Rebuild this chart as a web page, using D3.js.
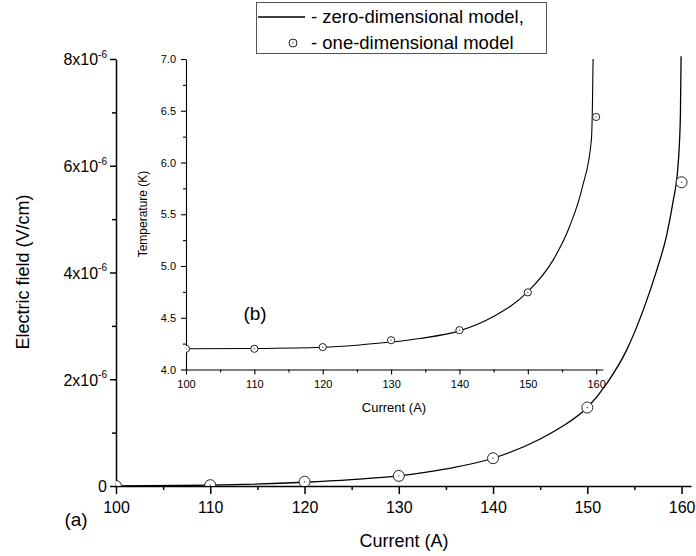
<!DOCTYPE html>
<html>
<head>
<meta charset="utf-8">
<script src="https://cdn.jsdelivr.net/npm/d3@7"></script>
<style>
body { margin: 0; background: #fff; }
svg { display: block; font-family: "Liberation Sans", Arial, sans-serif; }
</style>
</head>
<body>
<div id="chart"></div>
<script>
// one-dimensional model (circles)
var currents = [100, 110, 120, 130, 140, 150, 160];
var fieldPoints = [0, 0.015e-6, 0.08e-6, 0.19e-6, 0.52e-6, 1.47e-6, 5.69e-6];
var tempPoints = [4.2, 4.2, 4.216, 4.283, 4.38, 4.745, 6.44];

// zero-dimensional model (line)
var fieldCurveI = [100, 110, 120, 125, 130, 135, 140, 145, 147.1, 150, 152.06, 154.18, 155.94, 157.36, 158.42, 159.12, 159.55, 159.75, 159.88, 159.95];
var fieldCurveE = [0, 0.015e-6, 0.07e-6, 0.12e-6, 0.19e-6, 0.32e-6, 0.52e-6, 0.88e-6, 1.09e-6, 1.47e-6, 1.92e-6, 2.55e-6, 3.3e-6, 4.04e-6, 4.7e-6, 5.35e-6, 5.85e-6, 6.35e-6, 7.0e-6, 8.05e-6];
var tempCurveI = [100, 110, 120, 125, 130, 134.2, 140, 144.9, 149.9, 153.7, 156.1, 158, 159.3, 159.45, 159.55];
var tempCurveT = [4.2, 4.203, 4.215, 4.235, 4.265, 4.3, 4.373, 4.509, 4.745, 5.057, 5.379, 5.766, 6.218, 6.54, 7.0];

// ticks
var xMajor = [100, 110, 120, 130, 140, 150, 160];
var xMinor = [105, 115, 125, 135, 145, 155];
var yMajor = [0, 2e-6, 4e-6, 6e-6, 8e-6];
var yMinor = [1e-6, 3e-6, 5e-6, 7e-6];
var yLabels = ["0", "2x10^-6", "4x10^-6", "6x10^-6", "8x10^-6"];
var tMajor = [4.0, 4.5, 5.0, 5.5, 6.0, 6.5, 7.0];
var tMinor = [4.25, 4.75, 5.25, 5.75, 6.25, 6.75];

var legendText = ["- zero-dimensional model,", "- one-dimensional model"];

(function () {
    var W = 696, H = 556;
    var svg = d3.select("#chart").append("svg")
        .attr("width", W)
        .attr("height", H);

    // main scales
    var x = d3.scaleLinear().domain([100, 161]).range([116, 691]);
    var y = d3.scaleLinear().domain([0, 8e-6]).range([486, 59]);

    // inset scales
    var xi = d3.scaleLinear().domain([100, 161]).range([186, 603]);
    var yi = d3.scaleLinear().domain([4, 7]).range([369.5, 59]);

    var defs = svg.append("defs");
    defs.append("clipPath").attr("id", "clipMain").append("rect")
        .attr("x", 116).attr("y", 54).attr("width", 575).attr("height", 432);
    defs.append("clipPath").attr("id", "clipInset").append("rect")
        .attr("x", 186).attr("y", 57).attr("width", 417).attr("height", 312.5);

    function styleAxis(g, w) {
        g.selectAll("path.domain").attr("stroke", "#000").attr("stroke-width", w);
        g.selectAll(".tick line").attr("stroke", "#000").attr("stroke-width", w);
    }

    // ---- main axes ----
    var gx = svg.append("g").attr("transform", "translate(0,486)")
        .call(d3.axisBottom(x).tickValues(xMajor).tickSize(8).tickSizeOuter(0).tickPadding(8).tickFormat(d3.format("d")));
    gx.selectAll("text").attr("font-size", 16).attr("fill", "#000").attr("font-family", null);
    styleAxis(gx, 1.5);
    var gxm = svg.append("g").attr("transform", "translate(0,486)")
        .call(d3.axisBottom(x).tickValues(xMinor).tickSize(4).tickFormat(""));
    gxm.select("path.domain").remove();
    styleAxis(gxm, 1.5);

    var gy = svg.append("g").attr("transform", "translate(116,0)")
        .call(d3.axisLeft(y).tickValues(yMajor).tickSize(6).tickSizeOuter(0).tickPadding(3).tickFormat(function (d, i) { return ""; }));
    styleAxis(gy, 1.5);
    gy.selectAll(".tick text").attr("font-family", null).attr("font-size", 16).attr("fill", "#000")
        .each(function (d, i) {
            var parts = yLabels[i].split("^");
            var t = d3.select(this).attr("dy", "0.36em");
            t.append("tspan").text(parts[0]);
            if (parts[1]) {
                t.append("tspan").attr("font-size", 10).attr("dy", "-0.75em").text(parts[1]);
            }
        });
    var gym = svg.append("g").attr("transform", "translate(116,0)")
        .call(d3.axisLeft(y).tickValues(yMinor).tickSize(4).tickFormat(""));
    gym.select("path.domain").remove();
    styleAxis(gym, 1.5);

    svg.append("text")
        .attr("transform", "translate(29,272) rotate(-90)")
        .attr("text-anchor", "middle")
        .attr("font-size", 18)
        .text("Electric field (V/cm)");
    svg.append("text")
        .attr("x", 404).attr("y", 547)
        .attr("text-anchor", "middle")
        .attr("font-size", 18)
        .text("Current (A)");
    svg.append("text")
        .attr("x", 76).attr("y", 526)
        .attr("text-anchor", "middle")
        .attr("font-size", 19)
        .text("(a)");

    // ---- inset axes ----
    var gxi = svg.append("g").attr("transform", "translate(0,369.5)")
        .call(d3.axisBottom(xi).tickValues(xMajor).tickSize(5).tickSizeOuter(0).tickPadding(6).tickFormat(d3.format("d")));
    gxi.selectAll("text").attr("font-size", 11).attr("fill", "#000").attr("font-family", null);
    styleAxis(gxi, 1.1);
    var gxim = svg.append("g").attr("transform", "translate(0,369.5)")
        .call(d3.axisBottom(xi).tickValues(xMinor).tickSize(3).tickFormat(""));
    gxim.select("path.domain").remove();
    styleAxis(gxim, 1.1);

    var gyi = svg.append("g").attr("transform", "translate(186,0)")
        .call(d3.axisLeft(yi).tickValues(tMajor).tickSize(5).tickSizeOuter(0).tickPadding(5).tickFormat(d3.format(".1f")));
    gyi.selectAll("text").attr("font-size", 11).attr("fill", "#000").attr("font-family", null);
    styleAxis(gyi, 1.1);
    var gyim = svg.append("g").attr("transform", "translate(186,0)")
        .call(d3.axisLeft(yi).tickValues(tMinor).tickSize(3).tickFormat(""));
    gyim.select("path.domain").remove();
    styleAxis(gyim, 1.1);

    svg.append("text")
        .attr("transform", "translate(147,214) rotate(-90)")
        .attr("text-anchor", "middle")
        .attr("font-size", 12)
        .text("Temperature (K)");
    svg.append("text")
        .attr("x", 394).attr("y", 412)
        .attr("text-anchor", "middle")
        .attr("font-size", 13)
        .text("Current (A)");
    svg.append("text")
        .attr("x", 255).attr("y", 320)
        .attr("text-anchor", "middle")
        .attr("font-size", 19)
        .text("(b)");

    // ---- curves ----
    var mainLine = d3.line()
        .x(function (d) { return x(d[0]); })
        .y(function (d) { return y(d[1]); })
        .curve(d3.curveMonotoneX);
    var insetLine = d3.line()
        .x(function (d) { return xi(d[0]); })
        .y(function (d) { return yi(d[1]); })
        .curve(d3.curveMonotoneX);

    svg.append("path")
        .datum(d3.zip(fieldCurveI, fieldCurveE))
        .attr("clip-path", "url(#clipMain)")
        .attr("fill", "none").attr("stroke", "#000").attr("stroke-width", 1.3)
        .attr("d", mainLine);
    svg.append("path")
        .datum(d3.zip(tempCurveI, tempCurveT))
        .attr("clip-path", "url(#clipInset)")
        .attr("fill", "none").attr("stroke", "#000").attr("stroke-width", 1.1)
        .attr("d", insetLine);

    // ---- circles ----
    function drawPoints(vals, sx, sy, r, clip) {
        var g = svg.append("g").attr("clip-path", "url(#" + clip + ")");
        var pts = g.selectAll("g.pt").data(d3.zip(currents, vals)).enter().append("g")
            .attr("class", "pt")
            .attr("transform", function (d) { return "translate(" + sx(d[0]) + "," + sy(d[1]) + ")"; });
        pts.append("circle").attr("r", r).attr("fill", "#fff").attr("stroke", "#222").attr("stroke-width", 1);
        pts.append("circle").attr("r", 0.7).attr("fill", "#444");
    }
    drawPoints(fieldPoints, x, y, 5.5, "clipMain");
    drawPoints(tempPoints, xi, yi, 3.6, "clipInset");

    // ---- legend ----
    var lg = svg.append("g");
    lg.append("rect")
        .attr("x", 256.5).attr("y", 2.5).attr("width", 290).attr("height", 51)
        .attr("fill", "#fff").attr("stroke", "#555").attr("stroke-width", 1);
    lg.append("line")
        .attr("x1", 258).attr("x2", 305).attr("y1", 17).attr("y2", 17)
        .attr("stroke", "#000").attr("stroke-width", 1.3);
    lg.append("circle").attr("cx", 293).attr("cy", 43).attr("r", 4)
        .attr("fill", "#fff").attr("stroke", "#222").attr("stroke-width", 1);
    lg.append("circle").attr("cx", 293).attr("cy", 43).attr("r", 0.7).attr("fill", "#444");
    lg.selectAll("text.leg").data(legendText).enter().append("text")
        .attr("class", "leg")
        .attr("x", 311)
        .attr("y", function (d, i) { return 23 + i * 26; })
        .attr("font-size", 18.5)
        .text(function (d) { return d; });
})();
</script>
</body>
</html>
